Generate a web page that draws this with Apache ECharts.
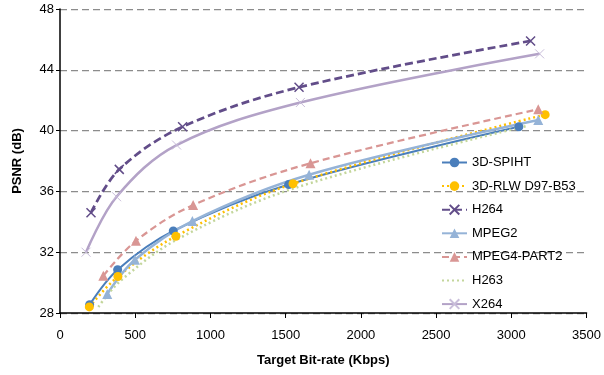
<!DOCTYPE html>
<html>
<head>
<meta charset="utf-8">
<script src="https://cdn.jsdelivr.net/npm/echarts@6/dist/echarts.min.js"></script>
<style>
  html, body { margin: 0; padding: 0; background: #fff; }
  #chart { width: 604px; height: 375px; }
</style>
</head>
<body>
<div id="chart"></div>
<script>
// bit-rate (Kbps) / PSNR (dB) per codec
const spihtX = [197, 383, 753, 1520, 3050];
const spihtY = [28.55, 30.85, 33.4, 36.45, 40.25];
const rlwX = [195, 385, 770, 1549, 3225];
const rlwY = [28.4, 30.4, 33.05, 36.5, 41.05];
const h264X = [206, 394, 815, 1589, 3128];
const h264Y = [34.6, 37.45, 40.25, 42.85, 45.9];
const mpeg2X = [314, 498, 880, 1656, 3179];
const mpeg2Y = [29.25, 31.5, 34.05, 37.1, 40.7];
const mpeg4X = [288, 505, 885, 1665, 3179];
const mpeg4Y = [30.45, 32.75, 35.1, 37.85, 41.4];
const h263X = [255, 400, 790, 1570, 3100];
const h263Y = [28.4, 30.1, 32.9, 36.25, 40.3];
const x264X = [173, 376, 775, 1598, 3188];
const x264Y = [32.0, 35.65, 39.05, 41.85, 45.05];

const xTicks = [0, 3500, 500];
const yTicks = [28, 48, 4];

const pair = (xs, ys) => xs.map((x, i) => [x, ys[i]]);
const cross = 'path://M0,0L10,10M10,0L0,10';
const font = 'Liberation Sans';

function line(name, xs, ys, color, opts) {
  return Object.assign({
    name,
    type: 'line',
    data: pair(xs, ys),
    smooth: 0.35,
    symbolSize: 8,
    showSymbol: true,
    color,
    itemStyle: { color },
  }, opts);
}

const series = [
  line('3D-SPIHT', spihtX, spihtY, '#4A7EBB', {
    symbol: 'circle', symbolSize: 9,
    lineStyle: { width: 2, color: '#4A7EBB' },
  }),
  line('3D-RLW D97-B53', rlwX, rlwY, '#FFC000', {
    symbol: 'circle', symbolSize: 9,
    lineStyle: { width: 2.5, color: '#FFC000', type: [2, 3] },
  }),
  line('H264', h264X, h264Y, '#624D89', {
    symbol: cross, symbolSize: 9,
    itemStyle: { color: '#624D89', borderColor: '#624D89', borderWidth: 1.5 },
    lineStyle: { width: 2.75, color: '#624D89', type: [8, 4] },
  }),
  line('MPEG2', mpeg2X, mpeg2Y, '#95B3D7', {
    symbol: 'triangle', symbolSize: 10,
    lineStyle: { width: 2.5, color: '#95B3D7' },
  }),
  line('MPEG4-PART2', mpeg4X, mpeg4Y, '#D99694', {
    symbol: 'triangle', symbolSize: 10,
    lineStyle: { width: 2.25, color: '#D99694', type: [7, 4] },
  }),
  line('H263', h263X, h263Y, '#C3D69B', {
    symbol: 'circle', showSymbol: false,
    lineStyle: { width: 2.5, color: '#C3D69B', type: [2, 3] },
  }),
  line('X264', x264X, x264Y, '#B3A2C7', {
    symbol: cross, symbolSize: 9,
    itemStyle: { color: '#B3A2C7', borderColor: '#C9BEDA', borderWidth: 1 },
    lineStyle: { width: 2.5, color: '#B3A2C7' },
  }),
];

const legendData = series.map(s =>
  s.showSymbol === false ? { name: s.name, itemStyle: { opacity: 0 } } : { name: s.name });

const chart = echarts.init(document.getElementById('chart'), null, { renderer: 'canvas' });
chart.setOption({
  animation: false,
  backgroundColor: '#fff',
  textStyle: { fontFamily: font },
  grid: { left: 60, right: 16, top: 9, bottom: 62, containLabel: false },
  legend: {
    orient: 'vertical',
    left: 436,
    top: 151,
    itemWidth: 25,
    itemHeight: 12,
    itemGap: 10.6,
    textStyle: { fontFamily: font, fontSize: 13, color: '#000' },
    data: legendData,
  },
  xAxis: {
    type: 'value',
    min: xTicks[0],
    max: xTicks[1],
    interval: xTicks[2],
    name: 'Target Bit-rate (Kbps)',
    nameLocation: 'middle',
    nameGap: 41,
    nameTextStyle: { fontFamily: font, fontSize: 13, fontWeight: 'bold', color: '#000' },
    axisLine: { show: true, lineStyle: { color: '#000', width: 1.5 } },
    axisTick: { show: true, inside: false, length: 5, lineStyle: { color: '#000' } },
    axisLabel: { fontSize: 13, color: '#000', margin: 16, formatter: v => String(v) },
    splitLine: { show: false },
  },
  yAxis: {
    type: 'value',
    min: yTicks[0],
    max: yTicks[1],
    interval: yTicks[2],
    name: 'PSNR (dB)',
    nameLocation: 'middle',
    nameGap: 36,
    nameRotate: 90,
    nameTextStyle: { fontFamily: font, fontSize: 13, fontWeight: 'bold', color: '#000' },
    axisLine: { show: true, lineStyle: { color: '#000', width: 1.5 } },
    axisTick: { show: true, inside: false, length: 4, lineStyle: { color: '#000' } },
    axisLabel: { fontSize: 13, color: '#000', margin: 6 },
    splitLine: { show: true, lineStyle: { color: '#8C8C8C', width: 1.25, type: [7, 4] } },
  },
  series,
});
</script>
</body>
</html>
